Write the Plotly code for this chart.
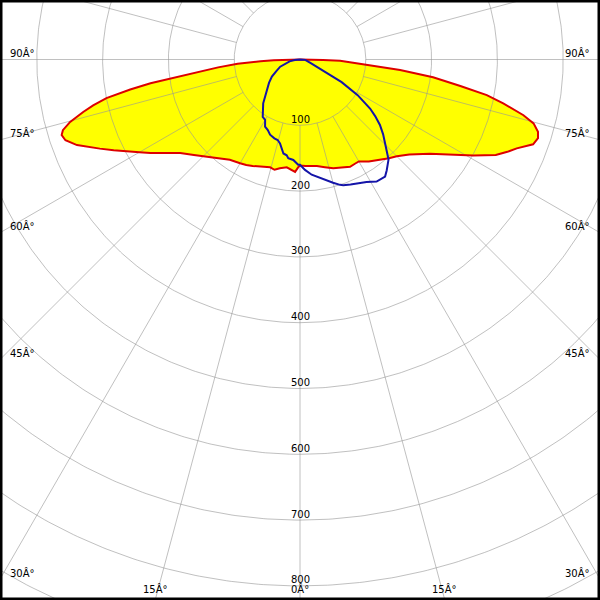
import numpy as np
import plotly.graph_objects as go

# C0-C180 plane (yellow fill, red outline): gamma angle (deg, 0 = straight down) and intensity (cd)
red_angle = [-90, -89, -88.5, -87.5, -86, -84.5, -83, -82, -81, -80, -78.7, -77.5, -76.4, -74.8,
             -73.4, -72.4, -71, -69, -67.5, -66, -64, -62, -60, -58, -55, -52, -48, -45, -40,
             -35, -30, -27, -24, -20.5, -17, -15.5, -13, -10.5, -7, -4.5, -2.5, -1, 0, 3, 6, 9,
             13, 17, 21, 25, 28, 30, 34, 38.5, 42, 45, 49, 54, 57, 61, 64, 66, 67.7, 70, 71.7,
             73.1, 74.7, 76, 77.8, 79.2, 80.6, 82.4, 84, 85.3, 87, 88.3, 89, 89.5, 90]
red_cd = [0, 20, 40, 60, 95, 125, 153, 190, 230, 262, 300, 322, 339, 362,
          376, 380, 377, 363, 348, 333, 315, 298, 282, 268, 248, 231, 217, 208, 195,
          186, 182, 180, 177, 174, 171, 170, 172, 168, 165, 168, 171, 164, 161, 162, 163, 164,
          168, 173, 176, 180, 179, 179, 187, 195, 202, 208, 220, 244, 265, 301, 331, 345, 356, 377, 381,
          378, 368, 350, 316, 289, 247, 204, 153, 102, 75, 61, 35, 15, 0]

# C90-C270 plane (blue outline)
blue_angle = [-90, -85, -80, -70, -64, -58.7, -53, -47.5, -43, -40, -36.4, -33, -30, -27.5, -24.5,
              -21.7, -18, -15.5, -13.4, -11.5, -10, -7.9, -6.8, -3.8, -1, 0, 2.6, 5.8, 8.1, 12.5,
              15, 17.7, 19, 22, 25.9, 28.5, 32.1, 34.5, 36, 38, 40, 41.5, 42.5, 44, 46, 48, 50.7,
              53, 55, 58.3, 61.5, 64, 67, 71, 80, 86, 90]
blue_cd = [0, 8, 16, 32, 40, 50, 59, 69, 78, 87, 95, 104, 106, 115, 118,
           123, 126, 127, 131, 138, 145, 147, 151, 153, 160, 160, 168, 176, 180, 188,
           194, 200, 202, 205, 209, 212, 219, 219, 220, 214, 207, 203, 197, 189, 180, 170, 157,
           143, 130, 103, 72, 45, 30, 18, 10, 8, 0]

ring_labels = [100, 200, 300, 400, 500, 600, 700, 800]
grid_rings = list(range(100, 1400, 100))
spoke_angles = list(range(0, 360, 15))
left_label_angles = [90, 75, 60, 45, 30]
bottom_label_angles = [15, 0]

# ---- layout geometry (pixels of the 600x600 picture) ----
W, H = 600, 600
K = 0.658          # px per cd
CX, CY = 300.0, 59.5


def to_xy(ang, r):
    a = np.radians(np.asarray(ang, dtype=float))
    r = np.asarray(r, dtype=float)
    return r * np.sin(a), -r * np.cos(a)


def px(xp, yp):
    return (xp - CX) / K, -(yp - CY) / K


fig = go.Figure()

# yellow fill
rx, ry = to_xy(red_angle, red_cd)
fig.add_trace(go.Scatter(x=rx, y=ry, mode="lines", fill="toself", fillcolor="#ffff00",
                         line=dict(width=0, color="#ffff00"), hoverinfo="skip"))

# grid circles
t = np.linspace(0, 360, 721)
gx, gy = [], []
for R in grid_rings:
    cx_, cy_ = to_xy(t, np.full_like(t, R))
    gx += list(cx_) + [None]
    gy += list(cy_) + [None]
# spokes
for a in spoke_angles:
    sx, sy = to_xy([a, a], [100, 1400])
    gx += list(sx) + [None]
    gy += list(sy) + [None]
fig.add_trace(go.Scatter(x=gx, y=gy, mode="lines",
                         line=dict(width=1, color="rgba(150,150,150,0.6)"), hoverinfo="skip"))

# red outline
fig.add_trace(go.Scatter(x=rx, y=ry, mode="lines", line=dict(width=2, color="#dd0000"),
                         hoverinfo="skip"))
# blue curve
bx, by = to_xy(blue_angle, blue_cd)
fig.add_trace(go.Scatter(x=bx, y=by, mode="lines", line=dict(width=2, color="#1414a8"),
                         hoverinfo="skip"))

font = dict(family="DejaVu Sans", size=10, color="black")
ann = []
for v in ring_labels:
    x0, y0 = px(CX, CY + v * K - 6)
    ann.append(dict(x=x0, y=y0, text=str(v), showarrow=False, font=font,
                    xanchor="center", yanchor="middle"))

for a in left_label_angles:
    hit = CY + (CX) * np.cos(np.radians(a)) / np.sin(np.radians(a))
    xl, yl = px(8, hit - 6.5)
    xr, _ = px(592, hit - 6.5)
    txt = f"{a}Â°"
    ann.append(dict(x=xl, y=yl, text=txt, showarrow=False, font=font,
                    xanchor="left", yanchor="middle"))
    ann.append(dict(x=xr, y=yl, text=txt, showarrow=False, font=font,
                    xanchor="right", yanchor="middle"))

for a in bottom_label_angles:
    off = (598 - CY) * np.tan(np.radians(a))
    txt = f"{a}Â°"
    for s in ([1] if a == 0 else [-1, 1]):
        xb, yb = px(CX + s * off, 589)
        ann.append(dict(x=xb, y=yb, text=txt, showarrow=False, font=font,
                        xanchor="center", yanchor="middle"))

xr0, _ = px(0, 0)
xr1, _ = px(W, 0)
_, yt = px(0, 0)
_, yb_ = px(0, H)

fig.update_layout(
    width=W, height=H, margin=dict(l=0, r=0, t=0, b=0),
    paper_bgcolor="white", plot_bgcolor="white", showlegend=False,
    xaxis=dict(range=[xr0, xr1], visible=False, fixedrange=True),
    yaxis=dict(range=[yb_, yt], visible=False, fixedrange=True),
    annotations=ann,
    shapes=[dict(type="rect", xref="paper", yref="paper", x0=0, y0=0, x1=1, y1=1,
                 line=dict(color="black", width=5))],
    hovermode=False,
)

fig.write_html("out.html", config={"displayModeBar": False},
               post_script="document.body.style.margin='0';document.body.style.overflow='hidden';")
